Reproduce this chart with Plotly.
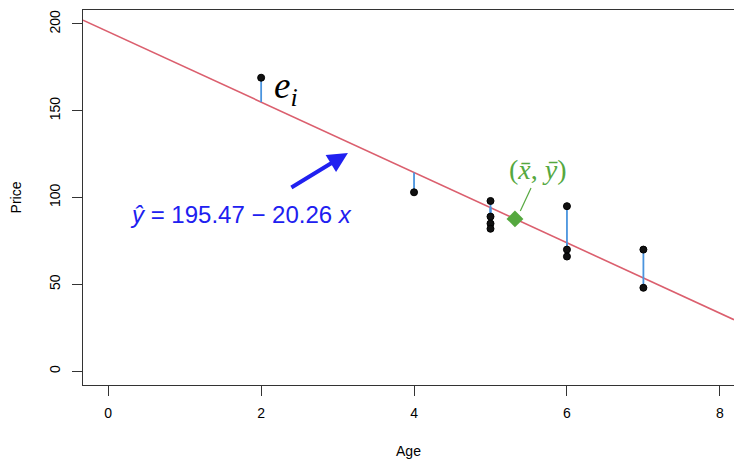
import plotly.graph_objects as go

# Data (Age in years, Price)
age = [2, 4, 5, 5, 5, 5, 6, 6, 6, 7, 7]
price = [169, 103, 98, 89, 85, 82, 95, 70, 66, 70, 48]

# Fitted line coefficients (as printed)
intercept = 195.47
slope = -20.26

# Mean marker as placed in the picture
mean_marker_x = [5.32]

x_ticks = [0, 2, 4, 6, 8]
y_ticks = [0, 50, 100, 150, 200]

x_range = [-0.33, 8.185]
y_range = [-8.0, 208.0]

RED = "#DB5F6E"
BLUE_SEG = "#4A94DE"
GREEN = "#55A83F"
EQ_BLUE = "#2020F0"

fig = go.Figure()

# regression line across the full plot width
fig.add_trace(go.Scatter(
    x=x_range, y=[intercept + slope * v for v in x_range],
    mode="lines", line=dict(color=RED, width=1.6), hoverinfo="skip", showlegend=False))

# residual segments
seg_x, seg_y = [], []
for a, p in zip(age, price):
    seg_x += [a, a, None]
    seg_y += [p, intercept + slope * a, None]
fig.add_trace(go.Scatter(x=seg_x, y=seg_y, mode="lines",
                         line=dict(color=BLUE_SEG, width=1.8), showlegend=False, hoverinfo="skip"))

# points
fig.add_trace(go.Scatter(x=age, y=price, mode="markers",
                         marker=dict(color="#111", size=7, line=dict(color="black", width=1)),
                         showlegend=False))

# connector from label to mean marker
fig.add_trace(go.Scatter(x=[5.53, 5.39], y=[105.5, 92.2], mode="lines",
                         line=dict(color=GREEN, width=1.2), showlegend=False, hoverinfo="skip"))

# mean marker (diamond) on the line
fig.add_trace(go.Scatter(x=mean_marker_x, y=[intercept + slope * v for v in mean_marker_x],
                         mode="markers", marker=dict(symbol="diamond", color=GREEN, size=13),
                         showlegend=False))

font = "Liberation Sans, Arial, Helvetica, sans-serif"
serif = "Liberation Serif, Times New Roman, serif"

fig.add_annotation(x=2.33, y=163, xref="x", yref="y", showarrow=False,
                   text="<i>e</i><sub><i>i</i></sub>",
                   font=dict(family=serif, size=37, color="black"))

fig.add_annotation(x=1.74, y=90, xref="x", yref="y", showarrow=False,
                   text="<i>ŷ</i> = 195.47 − 20.26 <i>x</i>",
                   font=dict(family=font, size=24, color=EQ_BLUE))

fig.add_annotation(x=3.135, y=125.6, ax=2.376, ay=105.2, xref="x", yref="y",
                   axref="x", ayref="y", showarrow=True, text="",
                   arrowhead=2, arrowsize=1.0, arrowwidth=4, arrowcolor=EQ_BLUE)

fig.add_annotation(x=5.62, y=116, xref="x", yref="y", showarrow=False,
                   text="(<i>x̄</i>, <i>ȳ</i>)",
                   font=dict(family=serif, size=28, color=GREEN))

fig.update_layout(
    width=734, height=461,
    margin=dict(l=83, r=0, t=10, b=76),
    plot_bgcolor="white", paper_bgcolor="white",
    font=dict(family=font, size=14, color="black"),
    xaxis=dict(range=x_range, tickvals=x_ticks, showgrid=False, zeroline=False,
               showline=True, mirror=True, linecolor="#333", linewidth=1,
               ticks="outside", ticklen=10, tickcolor="#333",
               tickfont=dict(family=font, size=14, color="black"),
               title=dict(text="Age", standoff=26, font=dict(family=font, size=14)),
               ticklabelstandoff=5),
    yaxis=dict(range=y_range, tickvals=y_ticks, showgrid=False, zeroline=False,
               showline=True, linecolor="#333", linewidth=1,
               ticks="outside", ticklen=10, tickcolor="#333", tickangle=-90,
               tickfont=dict(family=font, size=14, color="black"),
               title=dict(text="Price", standoff=22, font=dict(family=font, size=14)),
               ticklabelstandoff=6),
)

fig.write_html("out.html")
